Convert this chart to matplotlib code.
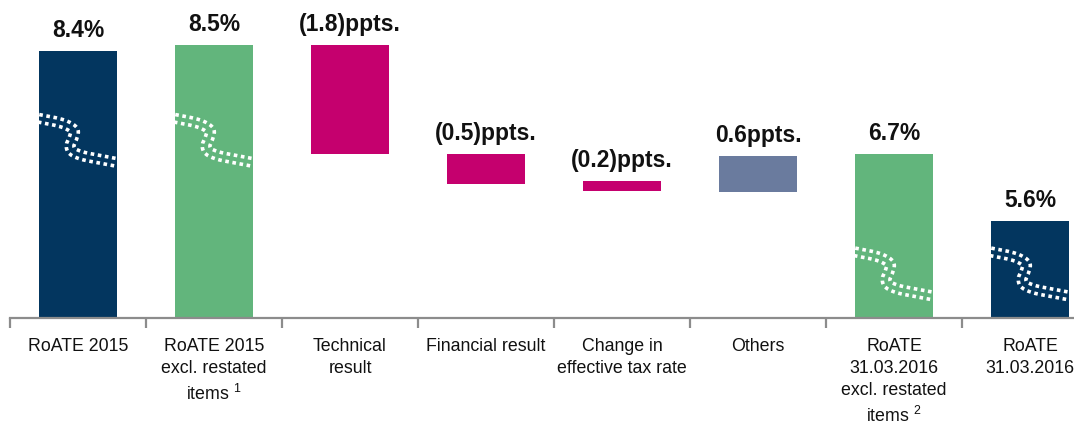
import matplotlib
matplotlib.use('Agg')
import matplotlib.pyplot as plt
import numpy as np
from matplotlib import font_manager as fm

# ---------------- data ----------------
categories = ["RoATE 2015",
              "RoATE 2015\nexcl. restated\nitems $^{1}$",
              "Technical\nresult",
              "Financial result",
              "Change in\neffective tax rate",
              "Others",
              "RoATE\n31.03.2016\nexcl. restated\nitems $^{2}$",
              "RoATE\n31.03.2016"]
axis_floor = 4.0  # broken axis baseline
bar_low = [axis_floor, axis_floor, 6.7, 6.2, 6.1, 6.08, axis_floor, axis_floor]
bar_high = [8.4, 8.5, 8.5, 6.7, 6.25, 6.67, 6.7, 5.6]
value_labels = ["8.4%", "8.5%", "(1.8)ppts.", "(0.5)ppts.", "(0.2)ppts.",
                "0.6ppts.", "6.7%", "5.6%"]
bar_colors = ["#03365F", "#62B57C", "#C5006E", "#C5006E", "#C5006E",
              "#6A7B9E", "#62B57C", "#03365F"]
break_bars = [0, 1, 6, 7]
break_levels = [7.29, 7.29, 5.09, 5.09]

# ---------------- fonts ----------------
names = {f.name for f in fm.fontManager.ttflist}
if 'Liberation Sans Narrow' in names:
    val_family, val_size = ['Liberation Sans Narrow', 'Liberation Sans'], 19
    tick_family, tick_size = ['Liberation Sans Narrow', 'Liberation Sans'], 15
else:
    val_family, val_size = ['Liberation Sans'], 16.5
    tick_family, tick_size = ['Liberation Sans', 'DejaVu Sans'], 12.8
plt.rcParams['mathtext.fontset'] = 'custom'
plt.rcParams['mathtext.rm'] = 'Liberation Sans'
plt.rcParams['mathtext.it'] = 'Liberation Sans'
plt.rcParams['mathtext.bf'] = 'Liberation Sans:bold'

W, H = 1074, 427
fig = plt.figure(figsize=(W / 100, H / 100), dpi=100)
ax = fig.add_axes([10 / W, 108 / H, 1064 / W, 319 / H])
px_per_y = 60.7
ax.set_ylim(axis_floor, axis_floor + 319 / px_per_y)
ax.set_xlim(-0.5, -0.5 + 1064 / 136)

x = np.arange(len(categories))
heights = [h - l for h, l in zip(bar_high, bar_low)]
bars = ax.bar(x, heights, bottom=bar_low, width=0.58, color=bar_colors,
              linewidth=0, zorder=2)

for xi, top, lab in zip(x, bar_high, value_labels):
    ax.annotate(lab, (xi, top), xytext=(0, 11), textcoords='offset points',
                ha='center', va='baseline', fontsize=val_size,
                fontweight='bold', family=val_family, color='#111111')

# axes styling
for s in ['left', 'right', 'top']:
    ax.spines[s].set_visible(False)
ax.spines['bottom'].set_color('#8C8C8C')
ax.spines['bottom'].set_linewidth(1.6)
ax.set_yticks([])
ax.set_xticks(x)
ax.set_xticklabels(categories, family=tick_family, fontsize=tick_size,
                   color='#111111', linespacing=1.38)
ax.tick_params(axis='x', which='major', length=0, pad=14)
ax.set_xticks(np.arange(-0.5, len(categories) - 0.5, 1.0), minor=True)
ax.tick_params(axis='x', which='minor', length=7, width=1.6,
               color='#8C8C8C', direction='out')

# ---------------- axis break squiggles ----------------
ctrl = np.array([(0.0, 0), (0.2, 3), (0.35, 6.5), (0.45, 12), (0.44, 19),
                 (0.40, 27), (0.43, 33), (0.56, 37.5), (0.78, 41),
                 (1.05, 45)])


def catmull(pts, n=20):
    P = np.vstack([pts[0], pts, pts[-1]])
    out = []
    for i in range(1, len(P) - 2):
        p0, p1, p2, p3 = P[i - 1], P[i], P[i + 1], P[i + 2]
        for t in np.linspace(0, 1, n, endpoint=False):
            t2, t3 = t * t, t * t * t
            out.append(0.5 * ((2 * p1) + (-p0 + p2) * t +
                              (2 * p0 - 5 * p1 + 4 * p2 - p3) * t2 +
                              (-p0 + 3 * p1 - 3 * p2 + p3) * t3))
    out.append(P[-2])
    return np.array(out)


fig.canvas.draw()
for bi, lvl in zip(break_bars, break_levels):
    rect = bars[bi]
    left = rect.get_x()
    wdata = rect.get_width()
    (x0, y0) = ax.transData.transform((left, lvl))
    (x1, _) = ax.transData.transform((left + wdata, lvl))
    wpx = x1 - x0
    pts = ctrl.copy()
    pts[:, 0] = pts[:, 0] * wpx
    curve = catmull(pts)
    d = np.gradient(curve, axis=0)
    d /= np.linalg.norm(d, axis=1)[:, None]
    normal = np.column_stack([-d[:, 1], d[:, 0]])
    for sgn in (-1, 1):
        off = curve + sgn * 3.8 * normal
        disp = np.column_stack([x0 + off[:, 0], y0 - off[:, 1]])
        dat = ax.transData.inverted().transform(disp)
        ln, = ax.plot(dat[:, 0], dat[:, 1], color='white', lw=2.6,
                      linestyle=(0, (1, 1.0)), dash_capstyle='butt',
                      zorder=3)
        ln.set_clip_path(rect)

fig.savefig('out.png', dpi=100)
